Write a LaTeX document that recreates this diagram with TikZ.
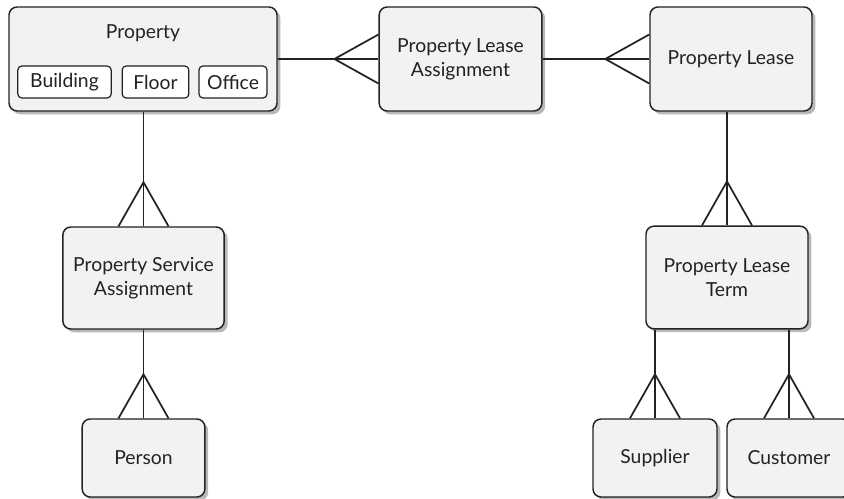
\documentclass[tikz,border=0pt]{standalone}
\usepackage{fontspec}
\setmainfont{Lato}
\usetikzlibrary{calc, shadows}
\definecolor{boxfill}{HTML}{F1F2F4}
\definecolor{boxline}{HTML}{222222}
\definecolor{shade}{HTML}{B8B8B8}
\tikzset{
  entity/.style={draw=boxline, line width=1.1pt, fill=boxfill, rounded corners=6pt,
    align=center, inner sep=0pt, text=boxline, font=\fontsize{14.5}{18}\selectfont,
    drop shadow={shadow xshift=2.5pt, shadow yshift=-2.5pt, fill=shade, opacity=1}},
  subtype/.style={draw=boxline, line width=0.9pt, fill=white, rounded corners=3pt,
    inner sep=0pt, minimum height=24pt, text=boxline, font=\fontsize{14.5}{18}\selectfont},
  rel/.style={line width=0.8pt, boxline},
  crow/.style={line width=1.3pt, boxline}
}

\begin{document}
\begin{tikzpicture}[x=0.75pt, y=-0.75pt]
\useasboundingbox (0,0) rectangle (844,499);
\clip (0,0) rectangle (844,499);

% entities
\node[entity, minimum width=201pt, minimum height=78pt] (prop) at (143,59) {};
\node[text=boxline, font=\fontsize{14.5}{18}\selectfont] (proptitle) at (143,33) {Property};
\node[subtype, minimum width=70pt] (building) at (64.5,82) {Building};
\node[subtype, minimum width=50pt] (floor) at (155.5,82) {Floor};
\node[subtype, minimum width=51pt] (office) at (233,82) {Office};

\node[entity, minimum width=122pt, minimum height=78pt] (pla) at (460.5,59) {Property Lease\\Assignment};
\node[entity, minimum width=121.5pt, minimum height=78pt] (pl) at (731,59) {Property Lease};
\node[entity, minimum width=121pt, minimum height=76.5pt] (psa) at (143.5,278) {Property Service\\Assignment};
\node[entity, minimum width=92pt, minimum height=58.5pt] (person) at (143.5,458) {Person};
\node[entity, minimum width=121.5pt, minimum height=77pt] (plt) at (727,277.5) {Property Lease\\Term};
\node[entity, minimum width=93pt, minimum height=58.5pt] (supplier) at (655,458) {Supplier};
\node[entity, minimum width=93pt, minimum height=58.5pt] (customer) at (789,458) {Customer};

% connectors
\draw[rel] (prop.east) -- (pla.west);
\draw[rel] (pla.east) -- (pl.west);
\draw[rel] (prop.south -| psa.north) -- (psa.north);
\draw[rel] (psa.south) -- (person.north);
\draw[rel] (plt.north |- pl.south) -- (plt.north);
\draw[rel] (supplier.north |- plt.south) -- (supplier.north);
\draw[rel] (customer.north |- plt.south) -- (customer.north);

% crow's feet
\foreach \n in {pla, pl} {
  \draw[crow] ($(\n.west)+(0,-24.5)$) -- ($(\n.west)+(-44,0)$) -- ($(\n.west)+(0,24.5)$);
}
\foreach \n in {psa, person, plt, supplier, customer} {
  \draw[crow] ($(\n.north)+(-25,0)$) -- ($(\n.north)+(0,-44)$) -- ($(\n.north)+(25,0)$);
}
\end{tikzpicture}
\end{document}
